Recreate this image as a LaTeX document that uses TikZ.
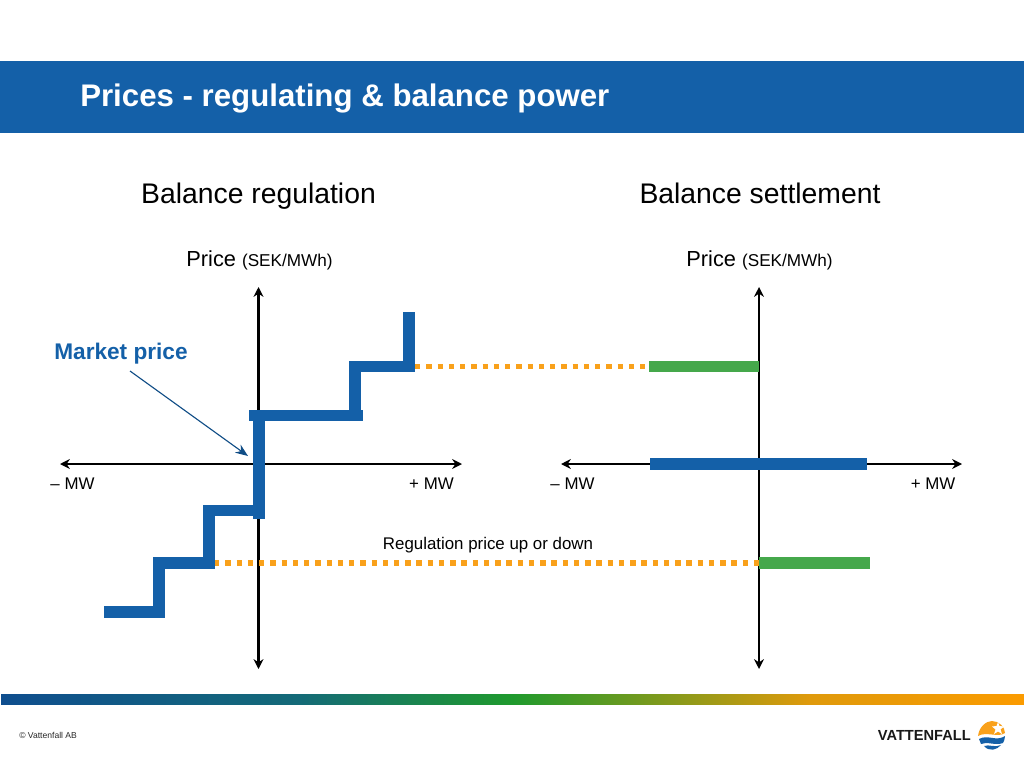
\documentclass[tikz,border=0pt]{standalone}
\usepackage{fontspec}
\setmainfont{Liberation Sans}
\definecolor{vfblue}{HTML}{1460A8}
\definecolor{vfgreen}{HTML}{45A84B}
\definecolor{vforange}{HTML}{F9A11B}
\definecolor{vfbar}{HTML}{FB9B00}
\definecolor{vfdark}{HTML}{0F4E8E}
\definecolor{vfteal}{HTML}{146A78}
\definecolor{vfmid}{HTML}{1F9A2D}
\definecolor{vfgold}{HTML}{DF9A0C}
\usetikzlibrary{arrows.meta}
\pgfdeclarehorizontalshading{vfband}{100bp}{
  color(0bp)=(vfdark);
  color(25bp)=(vfdark);
  color(39.5bp)=(vfteal);
  color(50bp)=(vfmid);
  color(64.5bp)=(vfgold);
  color(75bp)=(vfbar);
  color(100bp)=(vfbar)}
\tikzset{
  axisline/.style={line width=2.1pt,{Stealth[length=7pt,width=7pt]}-{Stealth[length=7pt,width=7pt]}},
  stepline/.style={vfblue,line width=8pt,miter limit=10},
  pricebar/.style={vfgreen,line width=8pt},
  dotline/.style={vforange,line width=4.1pt,dash pattern=on 3.9pt off 4.1pt},
  lbl/.style={inner sep=0pt,anchor=base,font=\fontsize{#1}{#1}\selectfont},
}
\begin{document}
\begin{tikzpicture}[x=0.025cm,y=-0.025cm]
\useasboundingbox (0,0) rectangle (1024,768);
% header and footer
\fill[vfblue] (0,61) rectangle (1024,133);
\node[anchor=base west,inner sep=0pt,white,font=\fontsize{22.2}{22.2}\selectfont\bfseries] (title) at (80,107) {Prices - regulating \& balance power};
\shade[shading=vfband] (1,694) rectangle (1024,704);
\node[lbl=6.1,anchor=base west,black!85] (copy) at (19,738) {© Vattenfall AB};
% logo
\node[anchor=base east,inner sep=0pt,font=\fontsize{10.4}{10.4}\selectfont\bfseries,black!90] (logo) at (971,740.5) {VATTENFALL};
\fill[vforange] (978,736) .. controls (979,727) and (986,721) .. (992,721) .. controls (999,721) and (1005,727) .. (1005,733) .. controls (998,738) and (986,731) .. cycle;
\fill[white] (998,722) -- (999.5,726) -- (1004,726.5) -- (1000.5,729.5) -- (1002,734) -- (998,731.5) -- (994,734) -- (995.5,729.5) -- (992,726.5) -- (996.5,726) -- cycle;
\fill[vfblue] (979,739) .. controls (988,734) and (996,742) .. (1005,736) .. controls (1005,739) and (1004,741) .. (1003,743) .. controls (995,746) and (987,741) .. (981,744) -- cycle;
\fill[vfblue] (984,746) .. controls (989,744) and (995,748) .. (1001,745) .. controls (997,750) and (989,752) .. (984,746) -- cycle;
% headings
\node[lbl=20.15] (headleft) at (258.5,203.5) {Balance regulation};
\node[lbl=20.15] (headright) at (760,203.5) {Balance settlement};
\node[lbl=15.5] (priceleft) at (259.5,266.5) {Price \fontsize{12.2}{12.2}\selectfont (SEK/MWh)};
\node[lbl=15.5] (priceright) at (759.5,266.5) {Price \fontsize{12.2}{12.2}\selectfont (SEK/MWh)};
% axes
\coordinate (ltop) at (258.5,287); \coordinate (lbot) at (258.5,669);
\coordinate (lminus) at (60,464); \coordinate (lplus) at (462,464);
\coordinate (rtop) at (759,287); \coordinate (rbot) at (759,669);
\coordinate (rminus) at (561,464); \coordinate (rplus) at (962,464);
\draw[axisline] (ltop) -- (lbot);
\draw[axisline] (lminus) -- (lplus);
\draw[axisline] (rtop) -- (rbot);
\draw[axisline] (rminus) -- (rplus);
\node[lbl=12] (mwa) at (72.5,489.5) {– MW};
\node[lbl=12] (mwb) at (431.5,489.5) {+ MW};
\node[lbl=12] (mwc) at (572.5,489.5) {– MW};
\node[lbl=12] (mwd) at (933,489.5) {+ MW};
% dotted levels
\coordinate (upfrom) at (415,366.5); \coordinate (upto) at (649,366.5);
\coordinate (downfrom) at (214,563); \coordinate (downto) at (759,563);
\draw[dotline] (upfrom) -- (upto);
\draw[dotline] (downfrom) -- (downto);
% supply steps
\draw[stepline] (104,612) -- (159,612) -- (159,563) -- (209,563) -- (209,510.5) -- (264,510.5);
\draw[stepline] (259,519) -- (259,410);
\draw[stepline] (249,415.5) -- (363,415.5);
\draw[stepline] (355,421) -- (355,366.5) -- (409,366.5) -- (409,312);
% settlement bars
\draw[pricebar] (upto) -- (759,366.5);
\draw[stepline] (650,464) -- (867,464);
\draw[pricebar] (downto) -- (870,563);
% labels
\node[lbl=16.1,font=\fontsize{16.1}{16.1}\selectfont\bfseries,vfblue] (market) at (121,359.5) {Market price};
\coordinate (marketfrom) at (130,371); \coordinate (marketto) at (248,456);
\draw[vfblue!80!black,line width=0.8pt,-{Stealth[length=9pt,width=7pt,inset=3pt]}] (marketfrom) -- (marketto);
\node[lbl=12] (reg) at (488,549.5) {Regulation price up or down};
\end{tikzpicture}
\end{document}
